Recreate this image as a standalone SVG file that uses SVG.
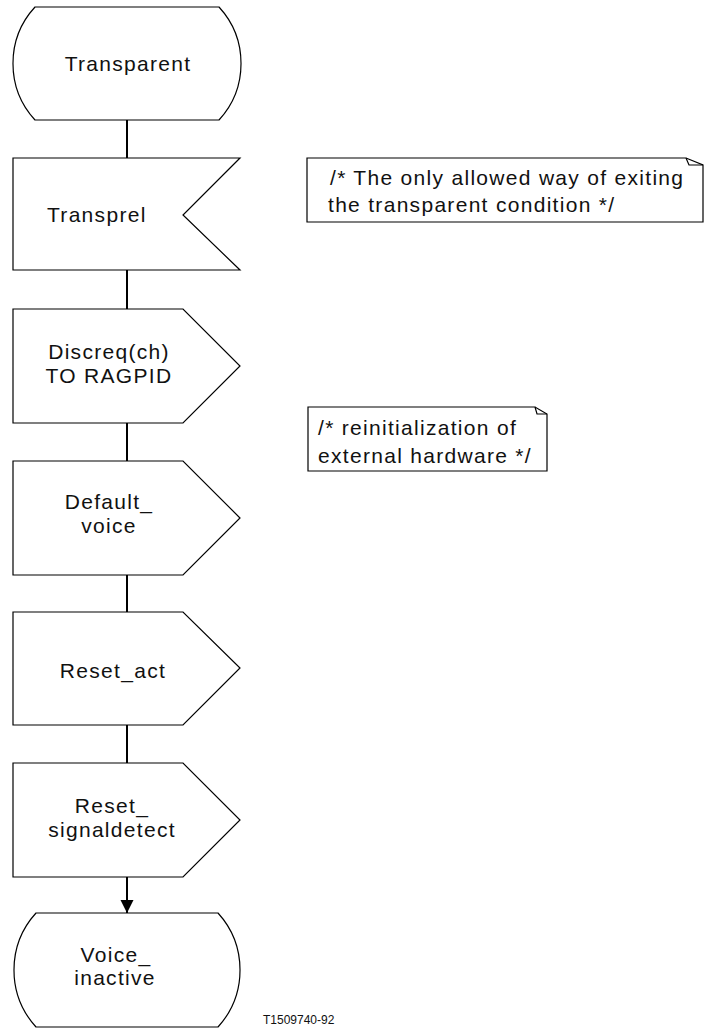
<svg xmlns="http://www.w3.org/2000/svg" width="707" height="1034" viewBox="0 0 707 1034">
<style>
.s{fill:#fff;stroke:#000;stroke-width:1.2}
.c{fill:none;stroke:#000;stroke-width:2}
.t{font-family:"Liberation Sans",Arial,sans-serif;font-size:21px;letter-spacing:1.3px;fill:#111}
.m{text-anchor:middle}
.f{fill:none;stroke:#000;stroke-width:1.2}
.cap{font-family:"Liberation Sans",Arial,sans-serif;font-size:12px;fill:#111}
</style>
<defs>
<marker id="ah" markerWidth="14" markerHeight="14" refX="13" refY="6.5" orient="auto" markerUnits="userSpaceOnUse">
<path d="M0,0 L13,6.5 L0,13 Z" fill="#000"/>
</marker>
</defs>
<g id="connectors">
<line class="c" x1="127" y1="120" x2="127" y2="158"/>
<line class="c" x1="127" y1="270" x2="127" y2="309"/>
<line class="c" x1="127" y1="423" x2="127" y2="461"/>
<line class="c" x1="127" y1="575" x2="127" y2="612"/>
<line class="c" x1="127" y1="725" x2="127" y2="763"/>
<line class="c" x1="127" y1="877" x2="127" y2="913" marker-end="url(#ah)"/>
</g>
<g id="transparent">
<path class="s" d="M35,7 L219,7 A83.5,83.5 0 0 1 219,120 L35,120 A83.5,83.5 0 0 1 35,7 Z"/>
<text class="t m" x="128" y="71">Transparent</text>
</g>
<g id="transprel">
<path class="s" d="M13,158 L240,158 L183,215 L240,270 L13,270 Z"/>
<text class="t" x="47" y="222">Transprel</text>
</g>
<g id="discreq">
<path class="s" d="M13,309 L183,309 L240,366 L183,423 L13,423 Z"/>
<text class="t m" x="109" y="359">Discreq(ch)</text>
<text class="t m" x="109" y="383">TO RAGPID</text>
</g>
<g id="default_voice">
<path class="s" d="M13,461 L183,461 L240,518 L183,575 L13,575 Z"/>
<text class="t m" x="109" y="509">Default_</text>
<text class="t m" x="109" y="533">voice</text>
</g>
<g id="reset_act">
<path class="s" d="M13,612 L183,612 L240,668 L183,725 L13,725 Z"/>
<text class="t m" x="113" y="678">Reset_act</text>
</g>
<g id="reset_signaldetect">
<path class="s" d="M13,763 L183,763 L240,820 L183,877 L13,877 Z"/>
<text class="t m" x="112" y="813">Reset_</text>
<text class="t m" x="112" y="837">signaldetect</text>
</g>
<g id="voice_inactive">
<path class="s" d="M36,913 L218,913 A84.8,84.8 0 0 1 218,1027 L36,1027 A84.8,84.8 0 0 1 36,913 Z"/>
<text class="t m" x="116" y="962">Voice_</text>
<text class="t m" x="115" y="985">inactive</text>
</g>
<g id="comment1">
<path class="s" d="M307,158 L686,158 L703,165 L703,222 L307,222 Z"/>
<path class="f" d="M686,158 L689,165 L703,165"/>
<text class="t" x="330" y="185">/* The only allowed way of exiting</text>
<text class="t" x="328" y="212">the transparent condition */</text>
</g>
<g id="comment2">
<path class="s" d="M308,407 L535,407 L547,414 L547,471 L308,471 Z"/>
<path class="f" d="M535,407 L537,414 L547,414"/>
<text class="t" x="318" y="435">/* reinitialization of</text>
<text class="t" x="318" y="463">external hardware */</text>
</g>
<text class="cap" x="263" y="1024">T1509740-92</text>
</svg>
